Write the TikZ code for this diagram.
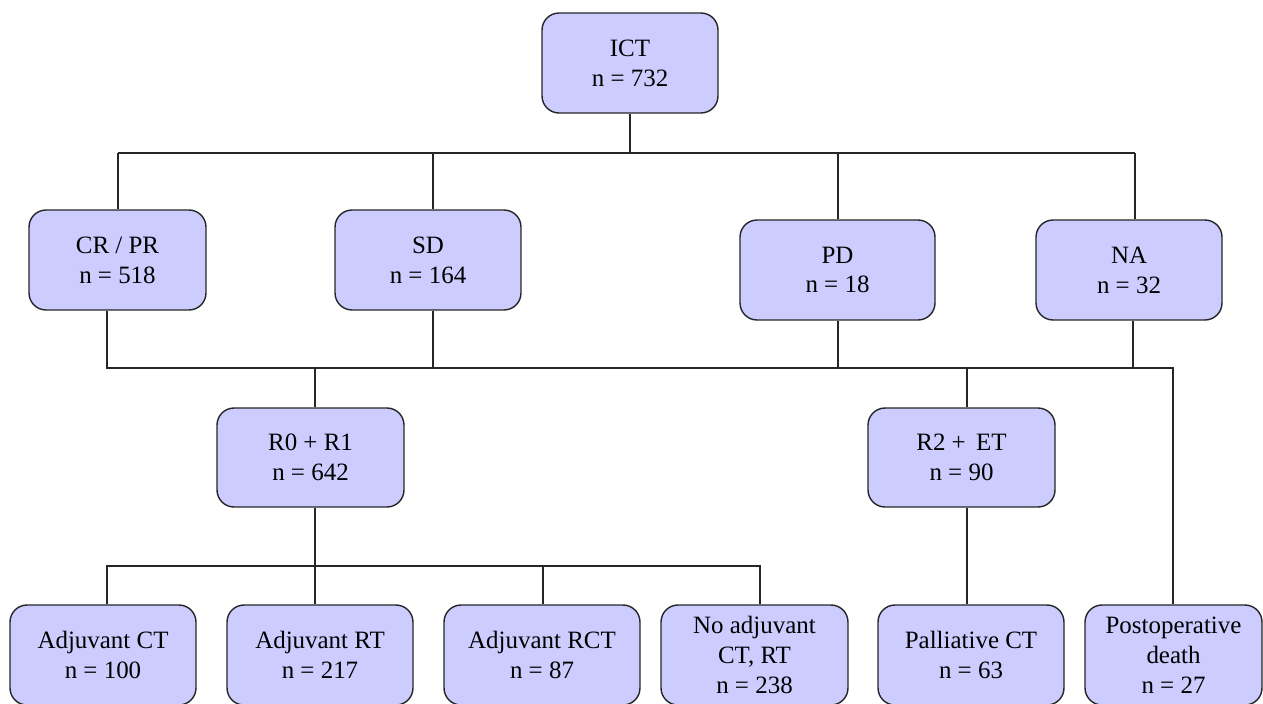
\documentclass[tikz,border=0pt]{standalone}
\usepackage{fontspec}
\setmainfont{Liberation Serif}
\usepackage{tikz}
\usetikzlibrary{calc}

\definecolor{boxfill}{RGB}{204,204,255}
\tikzset{
	flowbox/.style={draw=black!85, fill=boxfill, rounded corners=0.34cm, line width=0.8pt,
		align=center, inner sep=2pt, minimum height=2cm,
		font=\fontsize{14.2}{17}\selectfont},
	link/.style={line width=0.6pt, black!85}
}

\begin{document}
\begin{tikzpicture}[x=0.02cm,y=-0.02cm]
		\useasboundingbox (0,0) rectangle (1263,703);
		% top level
		\node[flowbox, minimum width=3.52cm] (ict) at (630,63) {ICT\\n = 732};
		% response
		\node[flowbox, minimum width=3.54cm] (crpr) at (117.5,260) {CR / PR\\n = 518};
		\node[flowbox, minimum width=3.72cm] (sd) at (428,260) {SD\\n = 164};
		\node[flowbox, minimum width=3.9cm] (pd) at (837.5,270) {PD\\n = 18};
		\node[flowbox, minimum width=3.72cm] (na) at (1129,270) {NA\\n = 32};
		% resection
		\node[flowbox, minimum width=3.74cm, minimum height=1.98cm] (rr) at (310.5,457.5) {R0 + R1\\n = 642};
		\node[flowbox, minimum width=3.74cm, minimum height=1.98cm] (ret) at (961.5,457.5) {R2 + \,ET\\n = 90};
		% further treatment
		\node[flowbox, minimum width=3.72cm, minimum height=2cm] (act) at (103,655) {Adjuvant CT\\n = 100};
		\node[flowbox, minimum width=3.72cm, minimum height=2cm] (art) at (320,655) {Adjuvant RT\\n = 217};
		\node[flowbox, minimum width=3.92cm, minimum height=2cm] (arct) at (542,655) {Adjuvant RCT\\n = 87};
		\node[flowbox, minimum width=3.74cm, minimum height=2cm] (noadj) at (754.5,655) {No adjuvant\\CT, RT\\n = 238};
		\node[flowbox, minimum width=3.72cm, minimum height=2cm] (pal) at (971,655) {Palliative CT\\n = 63};
		\node[flowbox, minimum width=3.54cm, minimum height=2cm] (post) at (1173.5,655) {Postoperative\\death\\n = 27};
		% junction levels
		\coordinate (lvla) at (0,153);
		\coordinate (lvlb) at (0,368);
		\coordinate (lvlc) at (0,566);
		% ICT to response
		\draw[link] (ict.south) -- (ict.south |- lvla);
		\draw[link] ([xshift=0.01cm]crpr.north |- lvla) -- ([xshift=0.12cm]na.north |- lvla);
		\draw[link] ([xshift=0.01cm]crpr.north |- lvla) -- ([xshift=0.01cm]crpr.north);
		\draw[link] ([xshift=0.1cm]sd.north |- lvla) -- ([xshift=0.1cm]sd.north);
		\draw[link] ([xshift=0.01cm]pd.north |- lvla) -- ([xshift=0.01cm]pd.north);
		\draw[link] ([xshift=0.12cm]na.north |- lvla) -- ([xshift=0.12cm]na.north);
		% response to resection
		\draw[link] ([xshift=-0.21cm]crpr.south) -- ([xshift=-0.21cm]crpr.south |- lvlb) -- ([xshift=-0.01cm]post.north |- lvlb) -- ([xshift=-0.01cm]post.north);
		\draw[link] ([xshift=0.1cm]sd.south) -- ([xshift=0.1cm]sd.south |- lvlb);
		\draw[link] ([xshift=0.01cm]pd.south) -- ([xshift=0.01cm]pd.south |- lvlb);
		\draw[link] ([xshift=0.08cm]na.south) -- ([xshift=0.08cm]na.south |- lvlb);
		\draw[link] ([xshift=0.09cm]rr.north |- lvlb) -- ([xshift=0.09cm]rr.north);
		\draw[link] ([xshift=0.11cm]ret.north |- lvlb) -- ([xshift=0.11cm]ret.north);
		% resection to further treatment
		\draw[link] ([xshift=0.09cm]rr.south) -- ([xshift=0.09cm]rr.south |- lvlc);
		\draw[link] ([xshift=0.08cm]act.north) -- ([xshift=0.08cm]act.north |- lvlc) -- ([xshift=0.11cm]noadj.north |- lvlc) -- ([xshift=0.11cm]noadj.north);
		\draw[link] ([xshift=-0.1cm]art.north |- lvlc) -- ([xshift=-0.1cm]art.north);
		\draw[link] ([xshift=0.02cm]arct.north |- lvlc) -- ([xshift=0.02cm]arct.north);
		\draw[link] ([xshift=0.11cm]ret.south) -- ([xshift=0.11cm]ret.south |- pal.north);
\end{tikzpicture}
\end{document}
